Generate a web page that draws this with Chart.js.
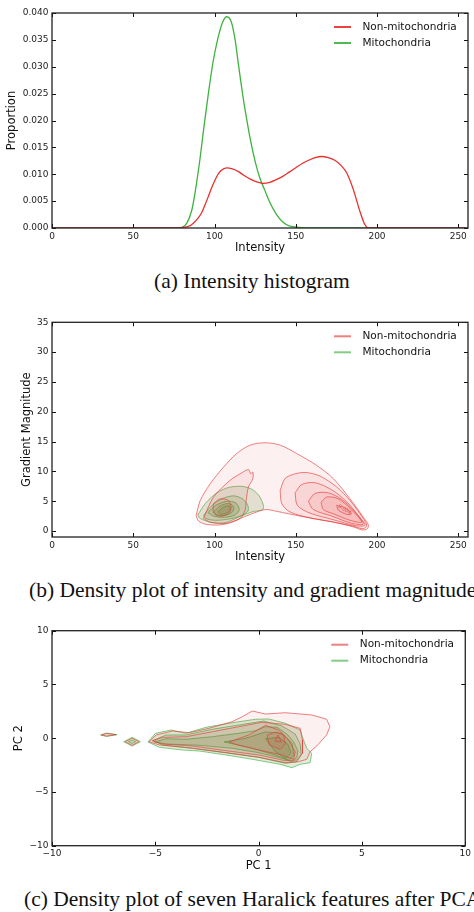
<!DOCTYPE html>
<html>
<head>
<meta charset="utf-8">
<script src="https://cdn.jsdelivr.net/npm/chart.js@4.4.0/dist/chart.umd.min.js"></script>
<style>
  body { margin: 0; background: #fff; width: 474px; height: 912px; overflow: hidden; position: relative; }
  .panel { position: absolute; left: 0; width: 474px; height: 262px; }
  .caption { position: absolute; white-space: nowrap; font-family: "Liberation Serif", serif; font-size: 21.5px; color: #111; line-height: 24px; }
</style>
</head>
<body>
<div class="panel" style="top:0"><canvas id="histChart"></canvas></div>
<div class="caption" style="top:269px; left:154px">(a) Intensity histogram</div>
<div class="panel" style="top:310px"><canvas id="gradChart"></canvas></div>
<div class="caption" style="top:578px; left:29px">(b) Density plot of intensity and gradient magnitude</div>
<div class="panel" style="top:620px"><canvas id="pcaChart"></canvas></div>
<div class="caption" style="top:887px; left:24px">(c) Density plot of seven Haralick features after PCA</div>

<script>
// ---- (a) intensity histogram ----
const nonMitoX = [0, 76, 80, 84, 87, 90, 92, 94, 96, 98, 100, 102, 104, 107.5, 111, 114.7, 118, 122, 126, 130,
    134, 138, 142, 146, 150, 154, 158, 162, 166, 170, 174, 178, 181.5, 185.5, 189.5, 192.6, 195, 200, 255];
const nonMitoDensity = [0, 0, 0.0001, 0.0003, 0.0009, 0.0019, 0.0028, 0.0042, 0.0057, 0.0073,
    0.0087, 0.0099, 0.0107, 0.0112, 0.0110, 0.0105, 0.0098, 0.0091, 0.0086, 0.0083,
    0.0085, 0.0090, 0.0096, 0.0104, 0.0112, 0.0120, 0.0126, 0.0131, 0.0133, 0.0131,
    0.0126, 0.0116, 0.0102, 0.0071, 0.0031, 0.0006, 0, 0, 0];
const mitoX = [0, 78, 80, 83, 86, 88, 91, 93.5, 96, 99, 102, 105, 107.5, 110.5, 112.7, 114.7, 117.8, 119.9, 121.9, 125,
    128, 131, 134, 138, 142, 146, 152, 158, 255];
const mitoDensity = [0, 0, 0.0001, 0.0009, 0.0033, 0.0065, 0.0127, 0.0188, 0.0245, 0.0307,
    0.0352, 0.0383, 0.0393, 0.0382, 0.0350, 0.0305, 0.0239, 0.0201, 0.0167, 0.0124,
    0.0092, 0.0070, 0.0048, 0.0026, 0.0011, 0.0004, 0.0001, 0, 0];
const intensityTicks = [0, 50, 100, 150, 200, 250];
const proportionTicks = [0, 0.005, 0.01, 0.015, 0.02, 0.025, 0.03, 0.035, 0.04];

// ---- (b) intensity vs gradient magnitude contours [intensity, gradient] ----
const gradTicks = [0, 5, 10, 15, 20, 25, 30, 35];
const gmNonMitoOuter = [[88.7, 2.6], [91.2, 5.1], [97.3, 7.9], [105.5, 10.7], [113.7, 13.0], [121.9, 14.4], [131.1, 14.8],
    [140.4, 14.4], [150.6, 13.0], [162.9, 11.0], [173.1, 8.8], [183.4, 5.4], [191.6, 2.3], [194.7, 1.0], [193.7, 0.3],
    [190.6, 0.2], [185.4, 0.7], [173.1, 1.5], [152.7, 2.5], [138.3, 3.3], [131.5, 3.6], [124, 3.0], [115.8, 2.1],
    [105.5, 1.1], [95.3, 1.1], [90.1, 1.7]];
const gmNonMitoLeft = [[93.2, 2.1], [99.4, 5.7], [109.6, 8.5], [115.8, 9.6], [120.9, 10.3], [122.3, 9.6], [123.6, 9.9],
    [123.6, 8.8], [120.9, 7.4], [119.5, 5.1], [118.8, 3.5], [115.8, 2.1], [107.6, 1.3], [97.3, 1.5]];
const gmNonMitoLeftCore = [[99.4, 4.6], [103.5, 5.4], [108.6, 5.1], [110.2, 4.0], [108.6, 2.9], [103.5, 2.5], [99.4, 3.2]];
const gmNonMitoRight1 = [[140.4, 6.8], [143.4, 8.8], [149.6, 9.6], [156.8, 9.8], [165, 9.2], [175.2, 7.4], [183.4, 5.1],
    [189.5, 2.9], [193.7, 1.0], [191.6, 0.4], [185.4, 0.8], [173.1, 1.5], [158.8, 2.2], [146.5, 3.2], [141.4, 4.6]];
const gmNonMitoRight2 = [[149.6, 6.4], [153.7, 7.8], [161.9, 8.1], [172.2, 6.9], [181.4, 4.9], [188.5, 2.6], [192.6, 1.0],
    [186.6, 0.9], [173.1, 1.9], [158.8, 3.0], [151, 4.3]];
const gmNonMitoRight3 = [[157.8, 5.0], [161.9, 6.3], [170.1, 6.4], [178.3, 5.3], [185.4, 3.5], [191.6, 1.2], [184.4, 1.3],
    [172.2, 2.5], [160.8, 3.6]];
const gmNonMitoRight4 = [[165.6, 4.8], [169.1, 5.7], [176.2, 5.4], [183.4, 3.8], [190.6, 1.5], [183.4, 1.8], [173.1, 2.9], [167, 3.6]];
const gmNonMitoRight5 = [[175.2, 4.3], [180.3, 3.9], [184.4, 2.9], [181.4, 2.8], [176.2, 3.5]];
const gmMito1 = [[89.7, 2.7], [94.3, 4.6], [101.4, 6.4], [108.6, 7.3], [116.8, 7.5], [123, 7.0], [127.5, 5.9], [130.1, 4.3],
    [129.7, 3.6], [123, 3.2], [114.7, 2.3], [106.5, 1.4], [98.4, 1.4], [91.2, 2.1]];
const gmMito2 = [[93.2, 2.6], [98.4, 4.3], [104.5, 5.4], [111.7, 5.9], [117.2, 5.4], [120.5, 4.3], [120.5, 3.3], [115.8, 2.5],
    [108.6, 2.0], [100.4, 1.8], [94.7, 2.1]];
const gmMito3 = [[95.9, 3.1], [100.8, 4.3], [107.6, 5.0], [113.1, 4.7], [115.2, 3.6], [112.7, 2.7], [106.1, 2.3], [99.4, 2.5]];
const gmMito4 = [[99.4, 3.2], [103.5, 4.2], [108.6, 4.6], [111.9, 4.0], [110.7, 3.1], [105.5, 2.6], [100.8, 2.7]];
const gmMito5 = [[102.4, 3.3], [105.5, 4.0], [109, 4.2], [109.6, 3.5], [106.5, 2.9], [103, 2.9]];

// ---- (c) PCA contours [PC1, PC2] ----
const pcTicks = [-10, -5, 0, 5, 10];
const pcNonMito1 = [[-5.31, -0.33], [-4.96, 0.30], [-4.16, 0.67], [-3.36, 0.51], [-2.40, 0.92], [-1.28, 1.54], [-0.79, 2.0],
    [-0.31, 2.53], [0.33, 2.25], [1.29, 2.37], [2.57, 2.16], [3.29, 1.76], [3.45, 1.07], [3.29, 0.30], [2.81, -0.73],
    [2.49, -1.26], [2.33, -1.96], [1.93, -2.19], [1.29, -2.28], [0.01, -1.78], [-1.59, -1.35], [-3.2, -0.94], [-4.8, -0.63]];
const pcNonMito2 = [[-5.15, -0.23], [-4.64, 0.08], [-3.51, 0.14], [-2.24, 0.6], [-0.96, 1.07], [0.15, 1.48], [1.29, 1.29],
    [2.01, 0.92], [2.12, -0.17], [2.12, -1.41], [1.85, -2.03], [1.29, -2.09], [0.01, -1.56], [-1.59, -1.16], [-3.2, -0.73], [-4.64, -0.54]];
const pcNonMito3 = [[-1.43, -0.35], [-0.47, 0.30], [0.33, 1.2], [0.97, 0.76], [1.45, -0.17], [1.77, -1.26], [1.69, -1.96],
    [1.13, -1.56], [0.01, -1.10], [-0.96, -0.66]];
const pcNonMito4 = [[0.41, 0.27], [0.81, 0.58], [1.21, 0.30], [1.29, -0.54], [1.05, -1.03], [0.52, -0.63]];
const pcNonMito5 = [[0.78, -0.26], [0.94, 0.30], [1.10, -0.35]];
const pcNonMitoSliver = [[-7.6, 0.30], [-7.36, 0.44], [-6.9, 0.33], [-7.36, 0.2]];
const pcNonMitoDiamond = [[-6.45, -0.33], [-6.12, 0.0], [-5.8, -0.33], [-6.12, -0.66]];
const pcMito1 = [[-5.36, -0.35], [-4.99, 0.46], [-4.24, 0.76], [-3.51, 0.46], [-2.55, 1.01], [-1.28, 1.44], [-0.15, 1.76],
    [0.49, 1.79], [1.29, 1.39], [2.01, 0.76], [2.17, -0.17], [2.33, -0.94], [2.57, -1.41], [2.49, -2.28], [2.01, -2.43],
    [1.61, -2.74], [0.97, -2.40], [-0.31, -1.96], [-1.59, -1.56], [-2.88, -1.19], [-3.68, -1.10], [-4.80, -0.85]];
const pcMito2 = [[-5.12, -0.23], [-4.48, 0.3], [-3.51, 0.3], [-2.24, 0.83], [-0.96, 1.23], [0.25, 1.6], [1.13, 1.13],
    [1.77, 0.39], [2.01, -0.54], [2.06, -1.56], [1.85, -2.19], [1.29, -2.34], [0.01, -1.78], [-1.59, -1.35], [-3.2, -0.94], [-4.64, -0.63]];
const pcMito3 = [[-5.04, -0.35], [-4.48, -0.05], [-3.51, -0.10], [-2.24, 0.14], [-0.96, 0.46], [-0.15, 0.70], [0.33, 1.07],
    [0.89, 1.01], [1.37, 0.39], [1.69, -0.33], [1.9, -1.16], [1.85, -1.78], [1.61, -2.19], [1.13, -1.87], [0.01, -1.35],
    [-1.28, -0.94], [-2.88, -0.66], [-4.48, -0.54]];
const pcMito4 = [[-1.67, -0.35], [-0.63, -0.01], [0.33, 0.58], [1.13, 0.46], [1.61, -0.47], [1.71, -1.56], [1.45, -2.03],
    [0.65, -1.47], [-0.47, -0.85]];
const pcMito5 = [[0.33, -0.05], [0.97, 0.08], [1.41, -0.54], [1.57, -1.41], [1.32, -1.87], [0.81, -1.26]];
const pcMitoSliver = [[-7.65, 0.30], [-7.36, 0.48], [-6.85, 0.33], [-7.36, 0.16]];
const pcMitoDiamond = [[-6.53, -0.33], [-6.12, 0.08], [-5.72, -0.33], [-6.12, -0.73]];
const pcMitoDiamondCore = [[-6.3, -0.33], [-6.12, -0.17], [-5.95, -0.33], [-6.12, -0.5]];

const seriesNames = ['Non-mitochondria', 'Mitochondria'];

Chart.defaults.font.family = '"DejaVu Sans", sans-serif';
Chart.defaults.color = '#222';

const RED = '#e8302c';
const GREEN = '#3db33d';
const RED_EDGE = 'rgba(230, 60, 60, 0.65)';
const GREEN_EDGE = 'rgba(50, 170, 50, 0.6)';
const RED_FILL = 'rgba(235, 70, 70, 0.08)';
const GREEN_FILL = 'rgba(60, 130, 30, 0.15)';

function closed(poly) {
    const pts = poly.map(([x, y]) => ({ x, y }));
    pts.push({ ...pts[0] });
    return pts;
}

function contour(poly, edge, fill, tension) {
    return {
        data: closed(poly),
        showLine: true,
        borderColor: edge,
        borderWidth: 1,
        backgroundColor: fill,
        fill: 'shape',
        tension: tension,
        pointRadius: 0
    };
}

function curve(label, xs, ys, color) {
    return {
        label: label,
        data: xs.map((x, i) => ({ x, y: ys[i] })),
        showLine: true,
        borderColor: color,
        borderWidth: 1.3,
        pointRadius: 0,
        cubicInterpolationMode: 'monotone'
    };
}

const frameTicks = {
    id: 'frameTicks',
    afterDatasetsDraw(chart) {
        const { ctx, chartArea: a, scales: { x, y } } = chart;
        ctx.save();
        ctx.strokeStyle = '#111';
        ctx.lineWidth = 1;
        ctx.beginPath();
        x.ticks.forEach(t => {
            const px = Math.round(x.getPixelForValue(t.value)) + 0.5;
            ctx.moveTo(px, a.bottom); ctx.lineTo(px, a.bottom - 4);
            ctx.moveTo(px, a.top); ctx.lineTo(px, a.top + 4);
        });
        y.ticks.forEach(t => {
            const py = Math.round(y.getPixelForValue(t.value)) + 0.5;
            ctx.moveTo(a.left, py); ctx.lineTo(a.left + 4, py);
            ctx.moveTo(a.right, py); ctx.lineTo(a.right - 4, py);
        });
        ctx.stroke();
        ctx.lineWidth = 1.3;
        ctx.strokeStyle = '#222';
        ctx.strokeRect(a.left, a.top, a.right - a.left, a.bottom - a.top);
        ctx.restore();
    }
};

function cornerLegend(colors) {
    return {
        id: 'cornerLegend',
        afterDraw(chart) {
            const { ctx, chartArea: a } = chart;
            ctx.save();
            ctx.font = '10.5px "DejaVu Sans"';
            ctx.textBaseline = 'middle';
            ctx.fillStyle = '#111';
            seriesNames.forEach((name, i) => {
                const yy = a.top + 14 + i * 16;
                ctx.strokeStyle = colors[i];
                ctx.lineWidth = 2;
                ctx.beginPath();
                ctx.moveTo(a.right - 134, yy);
                ctx.lineTo(a.right - 117, yy);
                ctx.stroke();
                ctx.fillText(name, a.right - 105.5, yy);
            });
            ctx.restore();
        }
    };
}

function minusFmt(v) {
    return v < 0 ? '\u2212' + Math.abs(v) : String(v);
}

function axisOptions(cfg) {
    return {
        responsive: true,
        maintainAspectRatio: false,
        animation: false,
        events: [],
        layout: { padding: { top: cfg.top, right: 6, left: 0, bottom: 0 } },
        plugins: { legend: { display: false }, tooltip: { enabled: false } },
        scales: {
            x: {
                type: 'linear',
                min: cfg.xMin, max: cfg.xMax,
                grid: { display: false, drawTicks: false },
                border: { display: false },
                afterBuildTicks: s => { s.ticks = cfg.xTicks.map(v => ({ value: v })); },
                afterFit: s => { s.height = cfg.xHeight; },
                ticks: { font: { size: 9 }, padding: 3, maxRotation: 0, autoSkip: false, callback: cfg.xFmt },
                title: { display: true, text: cfg.xTitle, color: '#111', font: { size: 11.5 }, padding: { bottom: cfg.xTitlePad, top: 0 } }
            },
            y: {
                type: 'linear',
                min: cfg.yMin, max: cfg.yMax,
                grid: { display: false, drawTicks: false },
                border: { display: false },
                afterBuildTicks: s => { s.ticks = cfg.yTicks.map(v => ({ value: v })); },
                afterFit: s => { s.width = 52; },
                ticks: { font: { size: 9 }, padding: 3.5, autoSkip: false, callback: cfg.yFmt },
                title: { display: true, text: cfg.yTitle, color: '#111', font: { size: 11.5 }, padding: { top: cfg.yTitlePad, bottom: 0 } }
            }
        }
    };
}

// (a)
new Chart(document.getElementById('histChart'), {
    type: 'scatter',
    data: {
        datasets: [
            curve(seriesNames[0], nonMitoX, nonMitoDensity, RED),
            curve(seriesNames[1], mitoX, mitoDensity, GREEN)
        ]
    },
    options: axisOptions({
        top: 13, xHeight: 34, xMin: 0, xMax: 256, yMin: 0, yMax: 0.04,
        xTicks: intensityTicks, yTicks: proportionTicks,
        xFmt: v => String(v), yFmt: v => v.toFixed(3),
        xTitle: 'Intensity', yTitle: 'Proportion', xTitlePad: 7, yTitlePad: 5.4
    }),
    plugins: [frameTicks, cornerLegend(['rgba(232,48,44,0.9)', 'rgba(61,179,61,0.9)'])]
});

// (b)
const gmRed = [gmNonMitoOuter, gmNonMitoLeft, gmNonMitoLeftCore, gmNonMitoRight1, gmNonMitoRight2, gmNonMitoRight3, gmNonMitoRight4, gmNonMitoRight5];
const gmGreen = [gmMito1, gmMito2, gmMito3, gmMito4, gmMito5];
new Chart(document.getElementById('gradChart'), {
    type: 'scatter',
    data: {
        datasets: [
            ...gmRed.map(p => contour(p, RED_EDGE, RED_FILL, 0.3)),
            ...gmGreen.map(p => contour(p, GREEN_EDGE, GREEN_FILL, 0.3))
        ]
    },
    options: axisOptions({
        top: 12.3, xHeight: 35, xMin: 0, xMax: 256, yMin: -1, yMax: 35,
        xTicks: intensityTicks, yTicks: gradTicks,
        xFmt: v => String(v), yFmt: v => String(v),
        xTitle: 'Intensity', yTitle: 'Gradient Magnitude', xTitlePad: 7.8, yTitlePad: 19.8
    }),
    plugins: [frameTicks, cornerLegend([RED_EDGE, GREEN_EDGE]), {
        id: 'levelLabel',
        afterDatasetsDraw(chart) {
            const { ctx, scales: { x, y } } = chart;
            ctx.save();
            ctx.translate(x.getPixelForValue(180), y.getPixelForValue(3.6));
            ctx.rotate(0.55);
            ctx.font = '5px "DejaVu Sans"';
            ctx.fillStyle = 'rgba(220,60,60,0.8)';
            ctx.textAlign = 'center';
            ctx.textBaseline = 'middle';
            ctx.fillText('0.004', 0, 0);
            ctx.restore();
        }
    }]
});

// (c)
const pcRed = [pcNonMito1, pcNonMito2, pcNonMito3, pcNonMito4, pcNonMito5, pcNonMitoSliver, pcNonMitoDiamond];
const pcGreen = [pcMito1, pcMito2, pcMito3, pcMito4, pcMito5, pcMitoSliver, pcMitoDiamond, pcMitoDiamondCore];
new Chart(document.getElementById('pcaChart'), {
    type: 'scatter',
    data: {
        datasets: [
            ...pcRed.map(p => contour(p, RED_EDGE, RED_FILL, 0)),
            ...pcGreen.map(p => contour(p, GREEN_EDGE, GREEN_FILL, 0))
        ]
    },
    options: axisOptions({
        top: 10.7, xHeight: 36.3, xMin: -10, xMax: 10, yMin: -10, yMax: 10,
        xTicks: pcTicks, yTicks: pcTicks,
        xFmt: minusFmt, yFmt: minusFmt,
        xTitle: 'PC 1', yTitle: 'PC 2', xTitlePad: 9, yTitlePad: 12
    }),
    plugins: [frameTicks, cornerLegend([RED_EDGE, GREEN_EDGE])]
});
</script>
</body>
</html>
